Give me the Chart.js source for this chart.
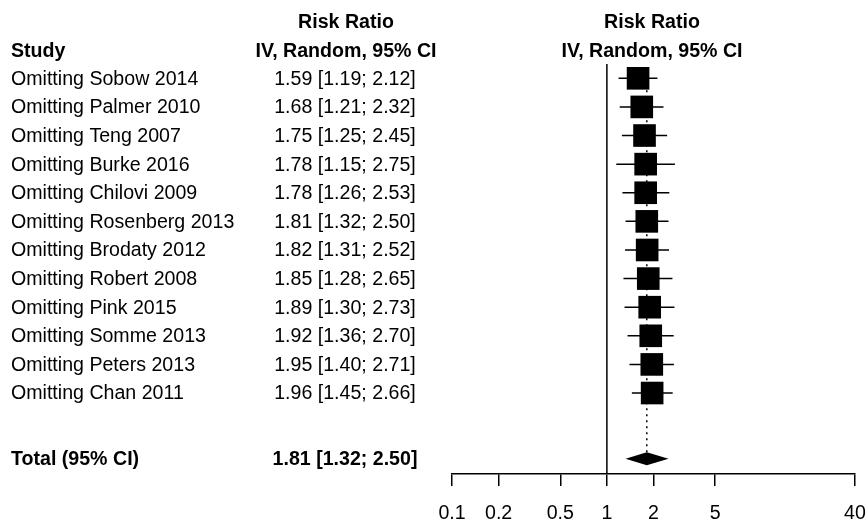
<!DOCTYPE html>
<html>
<head>
<meta charset="utf-8">
<title>Leave-one-out forest plot</title>
<script src="https://cdn.jsdelivr.net/npm/chart.js@4.4.1/dist/chart.umd.min.js"></script>
<style>
  html, body { margin: 0; padding: 0; background: #fff; }
  #forest { display: block; }
</style>
</head>
<body>
<canvas id="forest" width="866" height="523"></canvas>
<script>
const studies = [
  'Omitting Sobow 2014',
  'Omitting Palmer 2010',
  'Omitting Teng 2007',
  'Omitting Burke 2016',
  'Omitting Chilovi 2009',
  'Omitting Rosenberg 2013',
  'Omitting Brodaty 2012',
  'Omitting Robert 2008',
  'Omitting Pink 2015',
  'Omitting Somme 2013',
  'Omitting Peters 2013',
  'Omitting Chan 2011'
];
const riskRatio = [1.59, 1.68, 1.75, 1.78, 1.78, 1.81, 1.82, 1.85, 1.89, 1.92, 1.95, 1.96];
const ciLower   = [1.19, 1.21, 1.25, 1.15, 1.26, 1.32, 1.31, 1.28, 1.30, 1.36, 1.40, 1.45];
const ciUpper   = [2.12, 2.32, 2.45, 2.75, 2.53, 2.50, 2.52, 2.65, 2.73, 2.70, 2.71, 2.66];
const totalLabel = 'Total (95% CI)';
const totalRatio = [1.81, 1.32, 2.50]; // estimate, lower, upper
const xTicks = [0.1, 0.2, 0.5, 1, 2, 5, 40];

const FONT = "'Liberation Sans', Arial, Helvetica, sans-serif";
const FONT_SIZE = 19.6;
const totalRow = studies.length + 1.3;   // blank line before the pooled row
const diamondHalf = 6.5;                 // px

function fmtCI(est, lo, hi) {
  return est.toFixed(2) + ' [' + lo.toFixed(2) + '; ' + hi.toFixed(2) + ']';
}

// CI whiskers as one polyline, broken with null points
const whiskers = [];
studies.forEach((s, i) => {
  whiskers.push({ x: ciLower[i], y: i }, { x: ciUpper[i], y: i }, { x: null, y: null });
});

const boxes = studies.map((s, i) => ({ x: riskRatio[i], y: i }));

// left-hand table and headings
const tablePlugin = {
  id: 'studyTable',
  afterDraw(chart) {
    const { ctx, scales: { y } } = chart;
    ctx.save();
    ctx.fillStyle = '#000';
    ctx.textBaseline = 'middle';

    ctx.font = 'bold ' + FONT_SIZE + 'px ' + FONT;
    ctx.textAlign = 'left';
    ctx.fillText('Study', 11, 52);
    ctx.textAlign = 'center';
    ['Risk Ratio', 'IV, Random, 95% CI'].forEach((t, k) => {
      ctx.fillText(t, 346, 23 + 29 * k);
      ctx.fillText(t, 652, 23 + 29 * k);
    });

    ctx.font = FONT_SIZE + 'px ' + FONT;
    studies.forEach((s, i) => {
      const py = y.getPixelForValue(i) + 1;
      ctx.textAlign = 'left';
      ctx.fillText(s, 11, py);
      ctx.textAlign = 'center';
      ctx.fillText(fmtCI(riskRatio[i], ciLower[i], ciUpper[i]), 345, py);
    });

    const ty = y.getPixelForValue(totalRow) + 1;
    ctx.font = 'bold ' + FONT_SIZE + 'px ' + FONT;
    ctx.textAlign = 'left';
    ctx.fillText(totalLabel, 11, ty);
    ctx.textAlign = 'center';
    ctx.fillText(fmtCI(totalRatio[0], totalRatio[1], totalRatio[2]), 345, ty);
    ctx.restore();
  }
};

// pooled estimate diamond
const diamondPlugin = {
  id: 'summaryDiamond',
  afterDatasetsDraw(chart) {
    const { ctx, scales: { x, y } } = chart;
    const [est, lo, hi] = totalRatio;
    const cy = y.getPixelForValue(totalRow);
    ctx.save();
    ctx.fillStyle = '#000';
    ctx.beginPath();
    ctx.moveTo(x.getPixelForValue(lo), cy);
    ctx.lineTo(x.getPixelForValue(est), cy - diamondHalf);
    ctx.lineTo(x.getPixelForValue(hi), cy);
    ctx.lineTo(x.getPixelForValue(est), cy + diamondHalf);
    ctx.closePath();
    ctx.fill();
    ctx.restore();
  }
};

const yMin = -0.5, yMax = 13.83;

new Chart(document.getElementById('forest'), {
  type: 'scatter',
  data: {
    datasets: [
      {
        label: 'estimate',
        data: boxes,
        pointStyle: 'rect',
        pointRadius: 16,
        pointBorderWidth: 0,
        backgroundColor: '#000',
        borderColor: '#000',
        order: 0
      },
      {
        label: 'ci',
        data: whiskers,
        showLine: true,
        spanGaps: false,
        borderColor: '#000',
        borderWidth: 1.5,
        pointRadius: 0,
        order: 1
      },
      {
        label: 'pooled',
        data: [{ x: totalRatio[0], y: 0 }, { x: totalRatio[0], y: totalRow - 0.23 }],
        showLine: true,
        borderColor: '#000',
        borderWidth: 1.5,
        borderDash: [2, 4],
        pointRadius: 0,
        order: 2
      },
      {
        label: 'null',
        data: [{ x: 1, y: yMin }, { x: 1, y: yMax }],
        showLine: true,
        borderColor: '#000',
        borderWidth: 1.5,
        pointRadius: 0,
        order: 3
      }
    ]
  },
  options: {
    responsive: false,
    animation: false,
    events: [],
    layout: { autoPadding: false, padding: { left: 452, right: 11, top: 64, bottom: 0 } },
    plugins: { legend: { display: false }, tooltip: { enabled: false } },
    scales: {
      x: {
        type: 'logarithmic',
        min: 0.1,
        max: 40,
        afterBuildTicks: (scale) => { scale.ticks = xTicks.map(v => ({ value: v })); },
        // keep the axis strip a fixed height and stop label overflow padding
        afterFit: (scale) => {
          scale.height = 49;
          scale.paddingLeft = 0;
          scale.paddingRight = 0;
        },
        ticks: {
          autoSkip: false,
          maxRotation: 0,
          padding: 16,
          color: '#000',
          font: { family: FONT, size: FONT_SIZE },
          callback: (v) => String(v)
        },
        grid: { drawOnChartArea: false, drawTicks: true, tickLength: 12, color: '#000', lineWidth: 1.5 },
        border: { display: true, color: '#000', width: 1.5 }
      },
      y: {
        type: 'linear',
        reverse: true,
        min: yMin,
        max: yMax,
        display: false
      }
    }
  },
  plugins: [diamondPlugin, tablePlugin]
});
</script>
</body>
</html>
